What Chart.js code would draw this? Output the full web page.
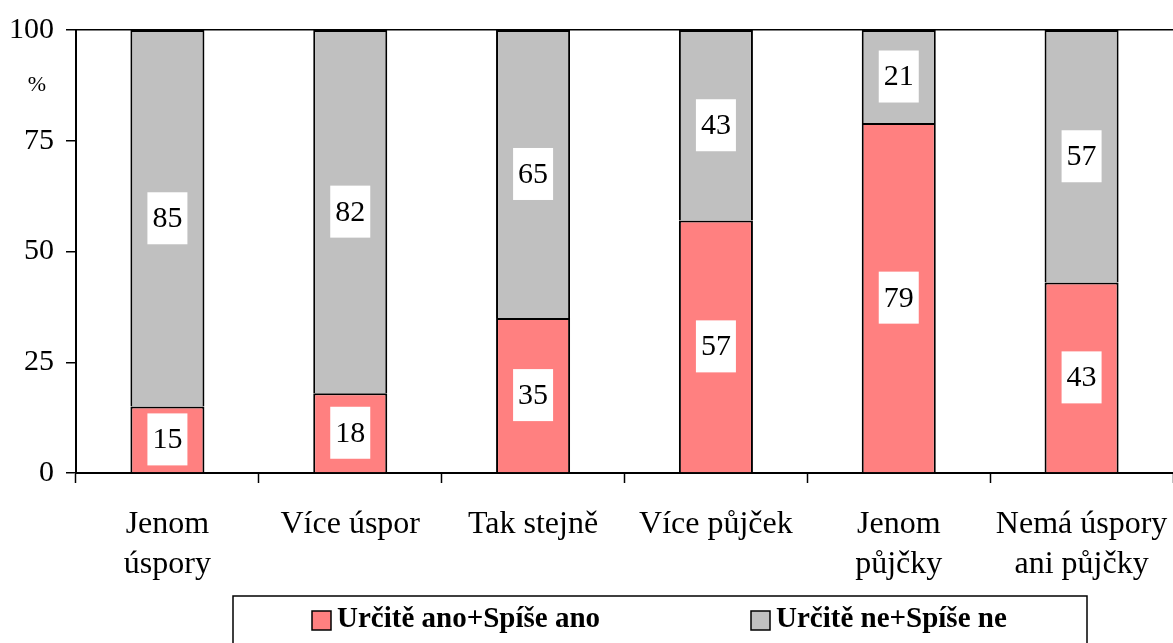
<!DOCTYPE html>
<html>
<head>
<meta charset="utf-8">
<script src="https://cdn.jsdelivr.net/npm/chart.js@4"></script>
<style>
  html, body { margin: 0; padding: 0; background: #fff; }
  #wrap { width: 1173px; height: 643px; position: relative; }
</style>
</head>
<body>
<div id="wrap"><canvas id="barChart"></canvas></div>
<script>
// categories and values
const categories = [
  ['Jenom', 'úspory'],
  'Více úspor',
  'Tak stejně',
  'Více půjček',
  ['Jenom', 'půjčky'],
  ['Nemá úspory', 'ani půjčky']
];
const yesValues = [15, 18, 35, 57, 79, 43];
const noValues = [85, 82, 65, 43, 21, 57];
const yTicks = [0, 25, 50, 75, 100];

const serif = "'Liberation Serif', 'Times New Roman', serif";

// white boxes with the values inside each segment
const valueBoxes = {
  id: 'valueBoxes',
  afterDatasetsDraw(chart) {
    const ctx = chart.ctx;
    ctx.save();
    chart.data.datasets.forEach((ds, i) => {
      chart.getDatasetMeta(i).data.forEach((bar, j) => {
        const p = bar.getProps(['x', 'y', 'base'], true);
        const cy = (p.y + p.base) / 2;
        ctx.fillStyle = '#fff';
        ctx.fillRect(p.x - 20, cy - 26, 40, 52);
        ctx.fillStyle = '#000';
        ctx.font = '30px ' + serif;
        ctx.textAlign = 'center';
        ctx.textBaseline = 'middle';
        ctx.fillText(String(ds.data[j]), p.x, cy + 1);
      });
    });
    ctx.restore();
  }
};

// "%" under the top tick and the boxed legend at the bottom
const extras = {
  id: 'extras',
  afterDraw(chart) {
    const ctx = chart.ctx;
    ctx.save();
    ctx.fillStyle = '#000';
    ctx.font = '22px ' + serif;
    ctx.textAlign = 'center';
    ctx.textBaseline = 'middle';
    ctx.fillText('%', 37, 85);

    ctx.strokeStyle = '#000';
    ctx.lineWidth = 1.5;
    ctx.strokeRect(233, 596, 854, 60);

    const itemX = [312, 751];
    chart.data.datasets.forEach((ds, i) => {
      const x = itemX[i];
      ctx.fillStyle = ds.backgroundColor;
      ctx.fillRect(x, 611, 19, 19);
      ctx.lineWidth = 1.5;
      ctx.strokeRect(x, 611, 19, 19);
      ctx.fillStyle = '#000';
      ctx.font = 'bold 29px ' + serif;
      ctx.textAlign = 'left';
      ctx.textBaseline = 'middle';
      ctx.fillText(ds.label, x + 25, 620);
    });
    ctx.restore();
  }
};

new Chart(document.getElementById('barChart'), {
  type: 'bar',
  data: {
    labels: categories,
    datasets: [
      {
        label: 'Určitě ano+Spíše ano',
        data: yesValues,
        backgroundColor: '#FF8080',
        borderColor: '#000',
        borderWidth: 2
      },
      {
        label: 'Určitě ne+Spíše ne',
        data: noValues,
        backgroundColor: '#C0C0C0',
        borderColor: '#000',
        borderWidth: 2
      }
    ]
  },
  options: {
    responsive: true,
    maintainAspectRatio: false,
    animation: false,
    layout: { padding: { top: 29, right: 0, left: 0, bottom: 0 } },
    datasets: {
      bar: { categoryPercentage: 0.405, barPercentage: 1 }
    },
    scales: {
      x: {
        stacked: true,
        offset: true,
        grid: {
          offset: true,
          color: 'transparent',
          tickColor: '#000',
          tickLength: 10,
          tickWidth: 1.5
        },
        border: { color: '#000', width: 2 },
        ticks: {
          color: '#000',
          padding: 22,
          maxRotation: 0,
          autoSkip: false,
          font: { family: serif, size: 32, lineHeight: 1.25 }
        },
        afterFit(scale) {
          scale.height = 170;
          scale.paddingLeft = 0;
          scale.paddingRight = 0;
        }
      },
      y: {
        stacked: true,
        min: 0,
        max: 100,
        afterBuildTicks(scale) {
          scale.ticks = yTicks.map(v => ({ value: v }));
        },
        grid: {
          color: c => (c.tick && c.tick.value === 100 ? '#000' : 'transparent'),
          lineWidth: 1.5,
          tickColor: '#000',
          tickLength: 10,
          tickWidth: 1.5
        },
        border: { color: '#000', width: 2 },
        ticks: {
          color: '#000',
          padding: 12,
          font: { family: serif, size: 30 }
        },
        afterFit(scale) { scale.width = 76; }
      }
    },
    plugins: {
      legend: { display: false },
      tooltip: { enabled: false }
    }
  },
  plugins: [valueBoxes, extras]
});
</script>
</body>
</html>
